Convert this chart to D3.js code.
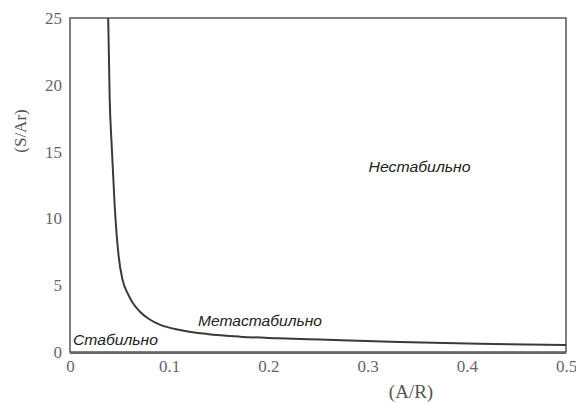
<!DOCTYPE html>
<html><head><meta charset="utf-8">
<script src="https://cdn.jsdelivr.net/npm/d3@7"></script>
<style>body{margin:0;background:#fff}</style>
</head><body>
<svg id="c" width="576" height="403"></svg>
<script>
const arValues = [0.0385, 0.040, 0.042, 0.045, 0.049, 0.053, 0.058, 0.063, 0.070, 0.080, 0.0905, 0.111, 0.138, 0.171, 0.21, 0.252, 0.332, 0.413, 0.5];
const saValues = [25, 19, 15.5, 11, 7.2, 5.4, 4.4, 3.7, 3.05, 2.45, 2.05, 1.65, 1.35, 1.15, 1.03, 0.93, 0.75, 0.62, 0.52];
const xTicks = [0, 0.1, 0.2, 0.3, 0.4, 0.5];
const yTicks = [0, 5, 10, 15, 20, 25];
const regionLabels = ["Стабильно", "Метастабильно", "Нестабильно"];
const regionX = [0.003, 0.129, 0.301];
const regionY = [0.5, 1.95, 13.5];
const xTitle = "(A/R)";
const yTitle = "(S/Ar)";

const svg = d3.select("#c");
const L = 70, R = 566, T = 18, B = 352;
const x = d3.scaleLinear().domain([0, 0.5]).range([L, R]);
const y = d3.scaleLinear().domain([0, 25]).range([B, T]);

// frame
svg.append("rect").attr("x", L).attr("y", T).attr("width", R - L).attr("height", B - T)
  .attr("fill", "none").attr("stroke", "#555").attr("stroke-width", 1.5);
svg.append("line").attr("x1", L).attr("x2", R).attr("y1", B + 1).attr("y2", B + 1)
  .attr("stroke", "#666").attr("stroke-width", 2);

// axes labels
const xa = svg.append("g").attr("transform", `translate(0,${B})`)
  .call(d3.axisBottom(x).tickValues(xTicks).tickSize(0).tickPadding(8).tickFormat(d => d === 0 ? "0" : d3.format(".1f")(d)));
const ya = svg.append("g").attr("transform", `translate(${L},0)`)
  .call(d3.axisLeft(y).tickValues(yTicks).tickSize(0).tickPadding(8));
[xa, ya].forEach(g => {
  g.select(".domain").remove();
  g.selectAll("text").attr("font-family", "Liberation Serif, serif").attr("font-size", 17).attr("fill", "#666");
});

// curve
svg.append("path")
  .datum(arValues.map((a, i) => [a, saValues[i]]))
  .attr("d", d3.line().x(d => x(d[0])).y(d => y(d[1])).curve(d3.curveMonotoneX))
  .attr("fill", "none").attr("stroke", "#3a3a3a").attr("stroke-width", 2);

// region labels
const labelWidths = [85, 124, 102];
regionLabels.forEach((t, i) => {
  svg.append("text").attr("x", x(regionX[i])).attr("y", y(regionY[i]))
    .attr("font-family", "Liberation Sans, Arial, sans-serif").attr("font-style", "italic")
    .attr("font-size", 14).attr("fill", "#222")
    .attr("textLength", labelWidths[i]).attr("lengthAdjust", "spacingAndGlyphs").text(t);
});

// titles
svg.append("text").attr("x", 411).attr("y", 398).attr("text-anchor", "middle")
  .attr("font-family", "Liberation Serif, serif").attr("font-size", 19).attr("fill", "#555").text(xTitle);
svg.append("text").attr("transform", "translate(26,131) rotate(-90)").attr("text-anchor", "middle")
  .attr("font-family", "Liberation Serif, serif").attr("font-size", 17).attr("fill", "#555").text(yTitle);
</script>
</body></html>
